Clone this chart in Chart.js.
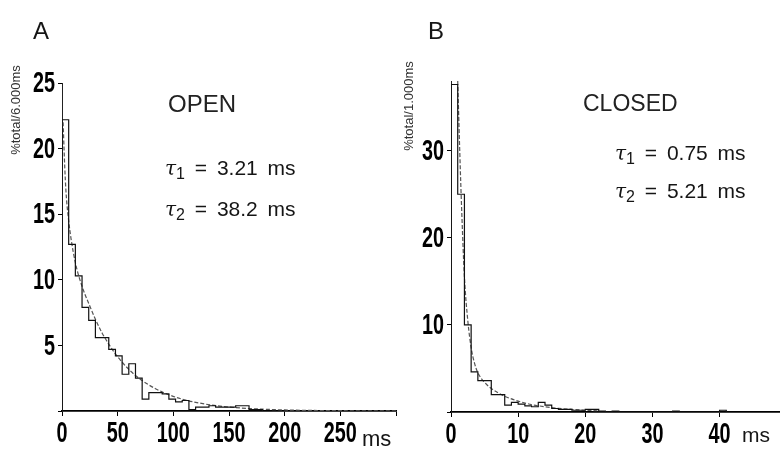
<!DOCTYPE html>
<html>
<head>
<meta charset="utf-8">
<script src="https://cdn.jsdelivr.net/npm/chart.js@4.4.1/dist/chart.umd.min.js"></script>
<style>
  html, body { margin: 0; padding: 0; background: #fff; }
  #page { position: relative; width: 780px; height: 450px; overflow: hidden;
          font-family: "Liberation Sans", Arial, sans-serif; color: #151515; }
  .panel { position: absolute; top: 0; height: 450px; }
  #panelA { left: 0; width: 400px; }
  #panelB { left: 400px; width: 380px; }
  .lbl { position: absolute; white-space: nowrap; line-height: 1; }
  .letter { font-size: 24px; }
  .state { font-size: 24px; color: #222; }
  .tau { font-size: 21px; word-spacing: 4px; }
  .tau i { font-family: "DejaVu Serif", serif; font-size: 20px; }
  .tau sub { font-size: 16px; vertical-align: -4px; line-height: 0; }
  .unit { font-size: 22px; }
  .ytitle { font-size: 13px; color: #333; transform: translate(-50%, -50%) rotate(-90deg); }
</style>
</head>
<body>
<div id="page">
  <div class="panel" id="panelA"><canvas id="chartA"></canvas></div>
  <div class="panel" id="panelB"><canvas id="chartB"></canvas></div>

  <div class="lbl letter" style="left:33px; top:19px;">A</div>
  <div class="lbl letter" style="left:428px; top:19px;">B</div>
  <div class="lbl ytitle" style="left:15px; top:110px;">%total/6.000ms</div>
  <div class="lbl ytitle" style="left:408px; top:106px;">%total/1.000ms</div>
  <div class="lbl state" style="left:168px; top:92px;">OPEN</div>
  <div class="lbl state" style="left:583px; top:92px; font-size:23px;">CLOSED</div>
  <div class="lbl tau" style="left:165px; top:157px;"><i>τ</i><sub>1</sub> = 3.21 ms</div>
  <div class="lbl tau" style="left:165px; top:198px;"><i>τ</i><sub>2</sub> = 38.2 ms</div>
  <div class="lbl tau" style="left:615px; top:142px;"><i>τ</i><sub>1</sub> = 0.75 ms</div>
  <div class="lbl tau" style="left:615px; top:180px;"><i>τ</i><sub>2</sub> = 5.21 ms</div>
  <div class="lbl unit" style="left:362px; top:428px;">ms</div>
  <div class="lbl unit" style="left:742px; top:424px; font-size:21px;">ms</div>
</div>

<script>
// Open times histogram (bin width 6 ms), % of total per bin
var openBinWidth = 6;
var openCounts = [22.2, 12.7, 10.3, 7.9, 6.9, 5.6, 5.6, 4.7, 4.2, 2.8,
                  3.6, 2.5, 0.9, 1.4, 1.4, 1.3, 0.9, 0.7, 0.8, 0.1,
                  0.3, 0.3, 0.4, 0.3, 0.3, 0.3, 0.4, 0.4, 0.1, 0.1];
// fitted curve (ms, %)
var openFitT = [1, 2, 3, 4, 6, 8, 12, 18, 24, 30, 36, 42, 48, 60, 72, 84,
                96, 108, 120, 140, 160, 180, 200, 240, 300];
var openFitY = [22, 19.6, 17.6, 16.2, 14.5, 13.2, 11.3, 9.5, 8.2, 7.0, 5.95, 5.1, 4.35, 3.17, 2.32, 1.7,
                1.24, 0.9, 0.66, 0.39, 0.23, 0.14, 0.08, 0.03, 0.01];

// Closed times histogram (bin width 1 ms)
var closedBinWidth = 1;
var closedCounts = [37.6, 25, 10, 4.6, 3.6, 3.6, 2.0, 2.0, 0.8, 1.1,
                    0.9, 0.7, 0.6, 1.1, 0.8, 0.4, 0.3, 0.3, 0.2, 0.2,
                    0.3, 0.3, 0.1, 0, 0.1, 0, 0, 0, 0, 0,
                    0, 0, 0, 0.1, 0, 0, 0, 0, 0, 0, 0.2];
var closedFitT = [1.0, 1.3, 1.6, 2.0, 2.5, 3.0, 3.5, 4.0, 5, 6, 7, 8, 10, 12, 14, 16, 18, 20, 22];
var closedFitY = [38, 30, 23, 15.5, 10.5, 7.4, 5.6, 4.5, 3.4, 2.7, 2.2, 1.8, 1.25, 0.85, 0.6, 0.42, 0.3, 0.2, 0.14];

// labelled ticks
var openXTicks = [0, 50, 100, 150, 200, 250];
var openYTicks = [5, 10, 15, 20, 25];
var closedXTicks = [0, 10, 20, 30, 40];
var closedYTicks = [10, 20, 30];

function histPoints(counts, w) {
  var pts = [{x: 0, y: 0}];
  for (var i = 0; i < counts.length; i++) {
    pts.push({x: i * w, y: counts[i]});
  }
  pts.push({x: counts.length * w, y: counts[counts.length - 1]});
  pts.push({x: counts.length * w, y: 0});
  return pts;
}

function fitPoints(t, y) {
  var pts = [];
  for (var i = 0; i < t.length; i++) pts.push({x: t[i], y: y[i]});
  return pts;
}

// the figure uses tall condensed bold numerals: draw the tick labels squeezed
var condensedTicks = {
  id: 'condensedTicks',
  afterDraw: function (chart, args, opts) {
    var ctx = chart.ctx;
    ctx.save();
    ctx.fillStyle = '#000';
    ctx.font = 'bold 30px "Liberation Sans", Arial, sans-serif';
    ctx.textBaseline = 'middle';
    ['x', 'y'].forEach(function (id) {
      var sc = chart.scales[id];
      var keep = id === 'x' ? opts.xTicks : opts.yTicks;
      sc.ticks.forEach(function (t) {
        if (keep.indexOf(t.value) < 0) return;
        var p = sc.getPixelForValue(t.value);
        ctx.save();
        if (id === 'x') {
          ctx.translate(p, sc.top + 23);
          ctx.textAlign = 'center';
        } else {
          ctx.translate(sc.right - 7, p + 1);
          ctx.textAlign = 'right';
        }
        ctx.scale(0.66, 1);
        ctx.fillText(String(t.value), 0, 0);
        ctx.restore();
      });
    });
    ctx.restore();
  }
};

function makeChart(id, o) {
  return new Chart(document.getElementById(id), {
    type: 'line',
    data: {
      datasets: [
        {
          data: histPoints(o.counts, o.binWidth),
          stepped: true,
          borderColor: '#111',
          borderWidth: 1.2,
          pointRadius: 0,
          fill: false
        },
        {
          data: fitPoints(o.fitT, o.fitY),
          borderColor: '#555',
          borderWidth: 1.2,
          borderDash: [4, 2],
          pointRadius: 0,
          cubicInterpolationMode: 'monotone',
          fill: false
        }
      ]
    },
    plugins: [condensedTicks],
    options: {
      responsive: true,
      maintainAspectRatio: false,
      animation: false,
      layout: { padding: o.padding },
      plugins: {
        legend: { display: false },
        tooltip: { enabled: false },
        condensedTicks: { xTicks: o.xTicks, yTicks: o.yTicks }
      },
      scales: {
        x: {
          type: 'linear',
          min: 0,
          max: o.xMax,
          afterFit: function (s) { s.height = 30; },
          border: { color: '#000', width: 1.8 },
          grid: { drawOnChartArea: false, color: '#000', tickLength: 5, lineWidth: 1 },
          ticks: {
            stepSize: o.xStep,
            includeBounds: false,
            color: 'rgba(0,0,0,0)',
            padding: 2,
            maxRotation: 0,
            font: { size: 20 },
            callback: function (v) { return o.xTicks.indexOf(v) >= 0 ? String(v) : ''; }
          }
        },
        y: {
          type: 'linear',
          min: 0,
          max: o.yMax,
          afterFit: function (s) { s.width = 40; },
          border: { color: '#222', width: 1 },
          grid: { drawOnChartArea: false, color: '#000', tickLength: 4, lineWidth: 1 },
          ticks: {
            stepSize: o.yStep,
            includeBounds: false,
            color: 'rgba(0,0,0,0)',
            padding: 2,
            font: { size: 20 },
            callback: function (v) { return o.yTicks.indexOf(v) >= 0 ? String(v) : ''; }
          }
        }
      }
    }
  });
}

makeChart('chartA', {
  counts: openCounts, binWidth: openBinWidth, fitT: openFitT, fitY: openFitY,
  xMax: 300, xStep: 50, xTicks: openXTicks,
  yMax: 25, yStep: 5, yTicks: openYTicks,
  padding: { left: 22, right: 4, top: 83, bottom: 9 }
});

makeChart('chartB', {
  counts: closedCounts, binWidth: closedBinWidth, fitT: closedFitT, fitY: closedFitY,
  xMax: 49, xStep: 10, xTicks: closedXTicks,
  yMax: 38, yStep: 10, yTicks: closedYTicks,
  padding: { left: 11, right: 0, top: 81, bottom: 8 }
});
</script>
</body>
</html>
